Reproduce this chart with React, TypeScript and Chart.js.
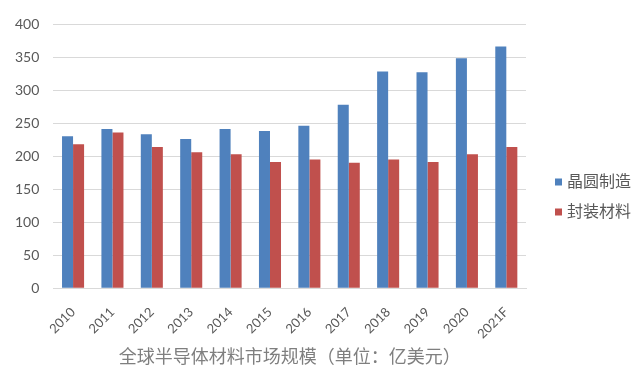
import React, { useEffect, useRef } from "react";
import { Chart, registerables } from "chart.js";

Chart.register(...registerables);

const categories = ["2010", "2011", "2012", "2013", "2014", "2015", "2016", "2017", "2018", "2019", "2020", "2021F"];
const waferFab = [230, 241, 233, 226, 241, 238, 246, 278, 328, 327, 348, 366];
const packaging = [218, 236, 214, 206, 203, 191, 195, 190, 195, 191, 203, 214];
const seriesNames = ["晶圆制造", "封装材料"];
const seriesColors = ["#4f81bd", "#c0504d"];
const yTicks = [0, 50, 100, 150, 200, 250, 300, 350, 400];
const axisTitle = "全球半导体材料市场规模（单位：亿美元）";

const FONT = "Lato, 'Noto Sans CJK SC', sans-serif";

const sideLegend = {
  id: "sideLegend",
  afterDraw(chart: any) {
    const { ctx, chartArea } = chart;
    ctx.save();
    ctx.font = `16px ${FONT}`;
    ctx.textBaseline = "middle";
    ctx.textAlign = "left";
    chart.data.datasets.forEach((ds: any, i: number) => {
      const cy = chartArea.top + 158 + i * 30;
      const bx = chartArea.right + 29;
      ctx.fillStyle = ds.backgroundColor;
      ctx.fillRect(bx, cy - 3.5, 7, 7);
      ctx.fillStyle = "#595959";
      ctx.fillText(ds.label, bx + 12, cy);
    });
    ctx.restore();
  },
};

export default function App() {
  const ref = useRef<HTMLCanvasElement | null>(null);
  useEffect(() => {
    if (!ref.current) return;
    const chart = new Chart(ref.current, {
      type: "bar",
      data: {
        labels: categories,
        datasets: [
          { label: seriesNames[0], data: waferFab, backgroundColor: seriesColors[0] },
          { label: seriesNames[1], data: packaging, backgroundColor: seriesColors[1] },
        ],
      },
      options: {
        responsive: false,
        animation: false,
        devicePixelRatio: 1,
        layout: { padding: { left: 1, right: 114, top: 24, bottom: 8 } },
        plugins: { legend: { display: false }, tooltip: { enabled: false } },
        datasets: { bar: { categoryPercentage: 0.56, barPercentage: 1 } },
        scales: {
          x: {
            grid: { display: false, drawTicks: false },
            border: { color: "#d9d9d9" },
            ticks: {
              color: "#595959",
              font: { family: FONT, size: 13 },
              maxRotation: 45,
              minRotation: 45,
              padding: 16,
            },
            title: {
              display: true,
              text: axisTitle,
              color: "#7f7f7f",
              font: { family: FONT, size: 18 },
              padding: { top: -11.5, bottom: -2 },
            },
          },
          y: {
            min: 0,
            max: 400,
            afterBuildTicks: (scale: any) => {
              scale.ticks = yTicks.map((v) => ({ value: v }));
            },
            grid: { color: "#d9d9d9", drawTicks: false },
            border: { display: false },
            ticks: {
              color: "#595959",
              font: { family: FONT, size: 14 },
              padding: 14,
            },
          },
        },
      },
      plugins: [sideLegend],
    });
    return () => chart.destroy();
  }, []);
  return (
    <div style={{ position: "absolute", left: 0, top: 0, width: 640, height: 374, background: "#fff" }}>
      <canvas ref={ref} width={640} height={374} />
    </div>
  );
}
